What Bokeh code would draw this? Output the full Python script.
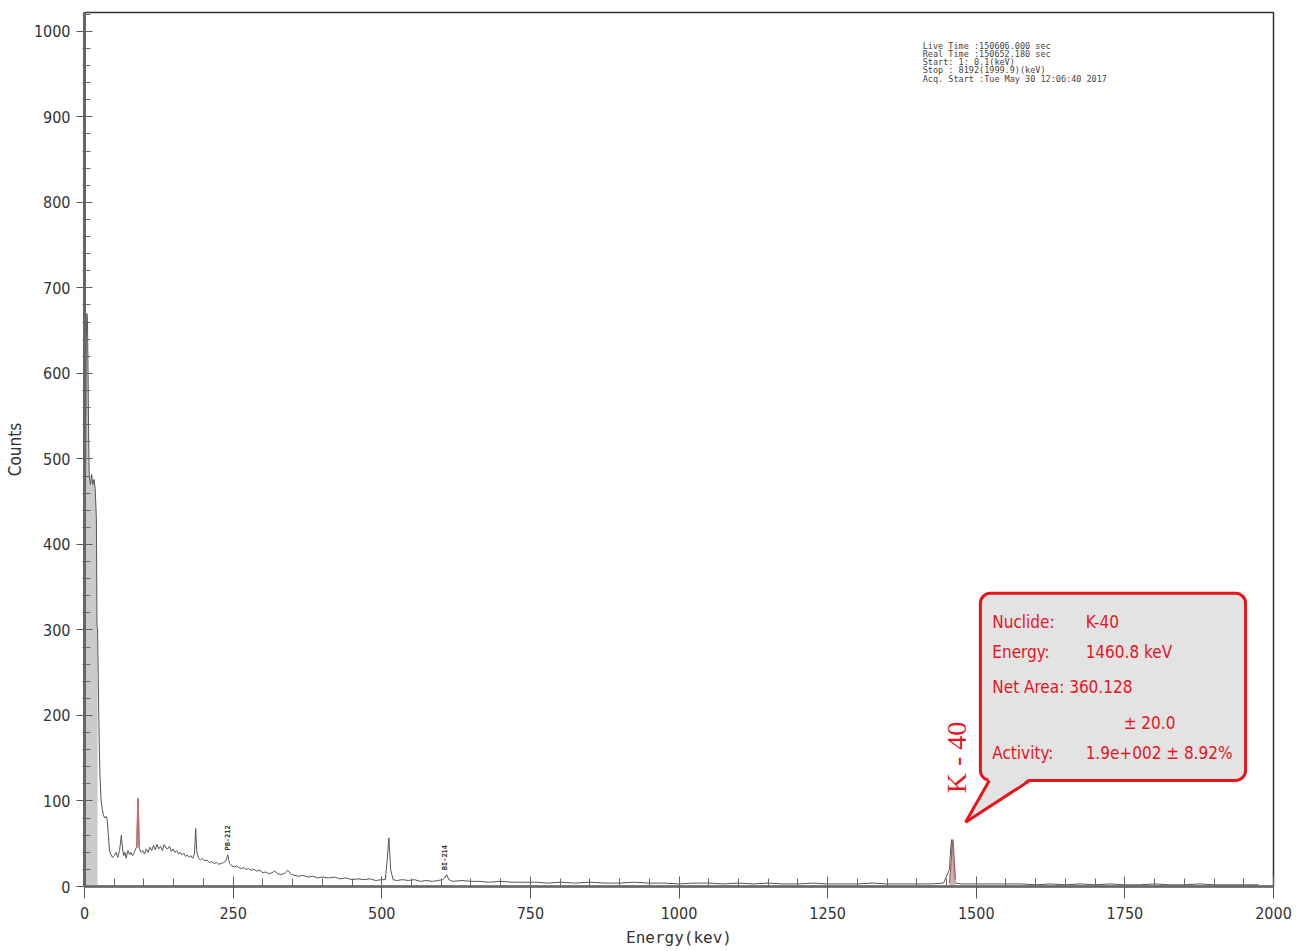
from bokeh.plotting import figure
from bokeh.models import Range1d, SingleIntervalTicker, BoxAnnotation, Label, ColumnDataSource
from bokeh.embed import file_html
from bokeh.resources import INLINE
import math

# ---------------- data ----------------
energy = [0, 1, 2, 3, 4, 5, 6, 7, 8, 10, 12, 14, 16, 18, 20, 21, 22, 23, 24, 25, 26, 28, 30, 32, 34, 36, 38, 40,
          42, 44, 47, 50, 53, 56, 59, 62, 64, 66, 68, 70, 73, 76, 78, 81, 84, 86, 88, 90, 92, 95, 98,
          101, 104, 107, 110, 113, 116, 119, 122, 125, 128, 131, 134, 137, 140, 143, 146, 149, 152, 155,
          158, 161, 164, 167, 170, 173, 176, 179, 182, 185, 187, 189, 192, 195, 198, 202, 206, 210, 214,
          218, 222, 226, 230, 234, 238, 241, 244, 248, 252, 256, 260, 264, 268, 272, 276, 280, 285, 290,
          295, 300, 305, 310, 315, 320, 325, 330, 336, 342, 348, 354, 360, 368, 376, 384, 392, 400, 410,
          420, 430, 440, 450, 460, 470, 480, 490, 500, 506, 509, 512, 515, 519, 525, 535, 545, 555, 565,
          575, 585, 595, 602, 606, 609, 613, 620, 635, 650, 665, 680, 700, 720, 740, 760, 780, 800, 825,
          850, 875, 900, 925, 950, 975, 1000, 1025, 1050, 1075, 1100, 1125, 1150, 1175, 1200, 1225, 1250,
          1275, 1300, 1325, 1350, 1375, 1400, 1425, 1445, 1455, 1457, 1459, 1461, 1463, 1465, 1475, 1500,
          1525, 1550, 1575, 1600, 1625, 1650, 1675, 1700, 1725, 1750, 1775, 1800, 1825, 1850, 1875, 1900,
          1925, 1950, 1975, 2000]
counts = [0, 300, 500, 640, 670, 662, 600, 520, 480, 470, 482, 470, 476, 465, 430, 305, 302, 250, 200, 160, 130,
          100, 90, 83, 80, 82, 79, 62,
          42, 38, 34, 36, 40, 34, 42, 60, 44, 36, 40, 33, 42, 37, 40, 36, 40, 44, 46, 103, 45, 40, 42,
          38, 44, 40, 46, 42, 48, 43, 49, 44, 47, 42, 49, 45, 44, 47, 41, 44, 40, 42,
          38, 40, 37, 39, 35, 37, 34, 36, 33, 38, 68, 40, 33, 31, 33, 30, 31, 28, 29,
          27, 28, 26, 27, 28, 30, 37, 27, 24, 23, 24, 22, 21, 22, 20, 21, 19, 20, 18,
          19, 16, 17, 15, 16, 18, 15, 14, 15, 19, 14, 13, 12, 13, 11, 12, 10, 11, 10,
          11, 9, 10, 8, 9, 8, 9, 7, 8, 8, 30, 57, 20, 8, 7, 8, 7, 8, 6,
          7, 6, 7, 8, 10, 14, 8, 6, 7, 6, 6, 5, 6, 5, 5, 5, 4, 5, 4,
          5, 4, 4, 5, 4, 4, 3, 4, 4, 3, 4, 3, 4, 3, 3, 4,
          3, 3, 3, 4, 3, 3, 3, 3, 4, 20, 45, 55, 30, 8, 4, 3,
          3, 3, 3, 3, 2, 3, 2, 3, 2, 3, 2, 2, 3, 2, 2, 3,
          2, 2, 2, 2]

# peaks drawn in red
red_energy = [88, 90, 92]
red_counts = [46, 103, 45]
k40_energy = [1455, 1457, 1459, 1461, 1463, 1465]
k40_counts = [4, 20, 45, 55, 30, 8]

# axis ticks
x_ticks_major = 250
y_ticks_major = 100

# annotation texts
info_lines = ["Live Time :150606.000 sec",
              "Real Time :150652.180 sec",
              "Start:    1:    0.1(keV)",
              "Stop : 8192(1999.9)(keV)",
              "Acq. Start :Tue May 30 12:06:40 2017"]
callout_labels = ["Nuclide:", "Energy:", "Net Area: 360.128", "", "Activity:"]
callout_values = ["K-40", "1460.8 keV", "", "\u00b1 20.0", "1.9e+002 \u00b1 8.92%"]

# ---------------- figure ----------------
p = figure(width=1293, height=949, output_backend="svg", toolbar_location=None,
           x_range=Range1d(0, 2000), y_range=Range1d(0, 1022),
           min_border_left=84, min_border_right=20, min_border_top=12, min_border_bottom=63)
p.background_fill_color = "white"
p.border_fill_color = "white"
p.outline_line_color = "#333333"
p.outline_line_width = 1.5
p.xgrid.visible = False
p.ygrid.visible = False

# spectrum
n_fill = 17
p.varea(x=energy[:n_fill], y1=[0] * n_fill, y2=counts[:n_fill], fill_color="#c4c4c4", fill_alpha=0.9)
p.line(energy, counts, line_color="#555555", line_width=1)
p.line(red_energy, red_counts, line_color="#c07070", line_width=1.5)
p.varea(x=k40_energy, y1=[0] * len(k40_energy), y2=k40_counts, fill_color="#c9a0a0", fill_alpha=0.8)
p.line(k40_energy, k40_counts, line_color="#a06060", line_width=1.2)

# axes
p.xaxis.ticker = SingleIntervalTicker(interval=x_ticks_major, num_minor_ticks=5)
p.yaxis.ticker = SingleIntervalTicker(interval=y_ticks_major, num_minor_ticks=5)
for ax in (p.xaxis[0], p.yaxis[0]):
    ax.axis_line_color = "#666666"
    ax.major_tick_line_color = "#555555"
    ax.minor_tick_line_color = "#666666"
    ax.major_label_text_font = "DejaVu Sans Condensed"
    ax.major_label_text_font_size = "16px"
    ax.major_label_text_color = "#333333"
    ax.axis_label_text_font_style = "normal"
    ax.axis_label_text_color = "#333333"
p.xaxis.axis_line_width = 2.5
p.xaxis.major_tick_in = 10
p.xaxis.major_tick_out = 12
p.xaxis.minor_tick_in = 8
p.xaxis.minor_tick_out = 0
p.xaxis.major_label_standoff = 8
p.xaxis.axis_label = "Energy(kev)"
p.xaxis.axis_label_text_font = "DejaVu Sans Mono"
p.xaxis.axis_label_text_font_size = "16px"
p.xaxis.axis_label_standoff = 6
p.yaxis.axis_line_width = 3
p.yaxis.major_tick_in = 8
p.yaxis.major_tick_out = 8
p.yaxis.minor_tick_in = 6
p.yaxis.minor_tick_out = 2
p.yaxis.major_label_standoff = 6
p.yaxis.axis_label = "Counts"
p.yaxis.axis_label_text_font = "DejaVu Sans Condensed"
p.yaxis.axis_label_text_font_size = "17px"
p.yaxis.axis_label_standoff = 6

# info text block (top right)
for i, line in enumerate(info_lines):
    p.add_layout(Label(x=1410, y=983 - i * 9.6, text=line, text_font="DejaVu Sans Mono",
                       text_font_size="8.5px", text_color="#444444", text_baseline="middle"))

# nuclide labels
p.add_layout(Label(x=242, y=42, text="PB-212", angle=math.pi / 2, text_font="DejaVu Sans Mono",
                   text_font_size="7px", text_font_style="bold", text_color="#333333",
                   text_baseline="middle"))
p.add_layout(Label(x=606, y=19, text="BI-214", angle=math.pi / 2, text_font="DejaVu Sans Mono",
                   text_font_size="7px", text_font_style="bold", text_color="#333333",
                   text_baseline="middle"))

# callout box
red = "#e8141c"
box = BoxAnnotation(left=1507, right=1953, bottom=124, top=343, fill_color="#e3e3e3", fill_alpha=1.0,
                    line_color=red, line_alpha=1.0, line_width=3, border_radius=10)
p.add_layout(box)
tail_src = ColumnDataSource(dict(x=[[1522, 1482, 1590]], y=[[127, 75, 127]]))
tr = p.patches("x", "y", source=tail_src, fill_color="#e3e3e3", line_color=None)
tr.level = "overlay"
l1 = p.line([1522, 1482], [124, 75], line_color=red, line_width=3)
l1.level = "overlay"
l2 = p.line([1590, 1482], [124, 75], line_color=red, line_width=3)
l2.level = "overlay"

ys = [309, 274, 233, 191, 156]
vx = [1684, 1684, 1627, 1748, 1684]
for i in range(5):
    if callout_labels[i]:
        p.add_layout(Label(x=1527, y=ys[i], text=callout_labels[i], text_font="DejaVu Sans Condensed",
                           text_font_size="17px", text_color=red, text_baseline="middle"))
    if callout_values[i]:
        p.add_layout(Label(x=vx[i], y=ys[i], text=callout_values[i], text_font="DejaVu Sans Condensed",
                           text_font_size="17px", text_color=red, text_baseline="middle"))

p.add_layout(Label(x=1466, y=109, text="K - 40", angle=math.pi / 2, text_font="Liberation Serif",
                   text_font_size="28px", text_color=red, text_baseline="middle"))

open("out.html", "w").write(file_html(p, INLINE))
